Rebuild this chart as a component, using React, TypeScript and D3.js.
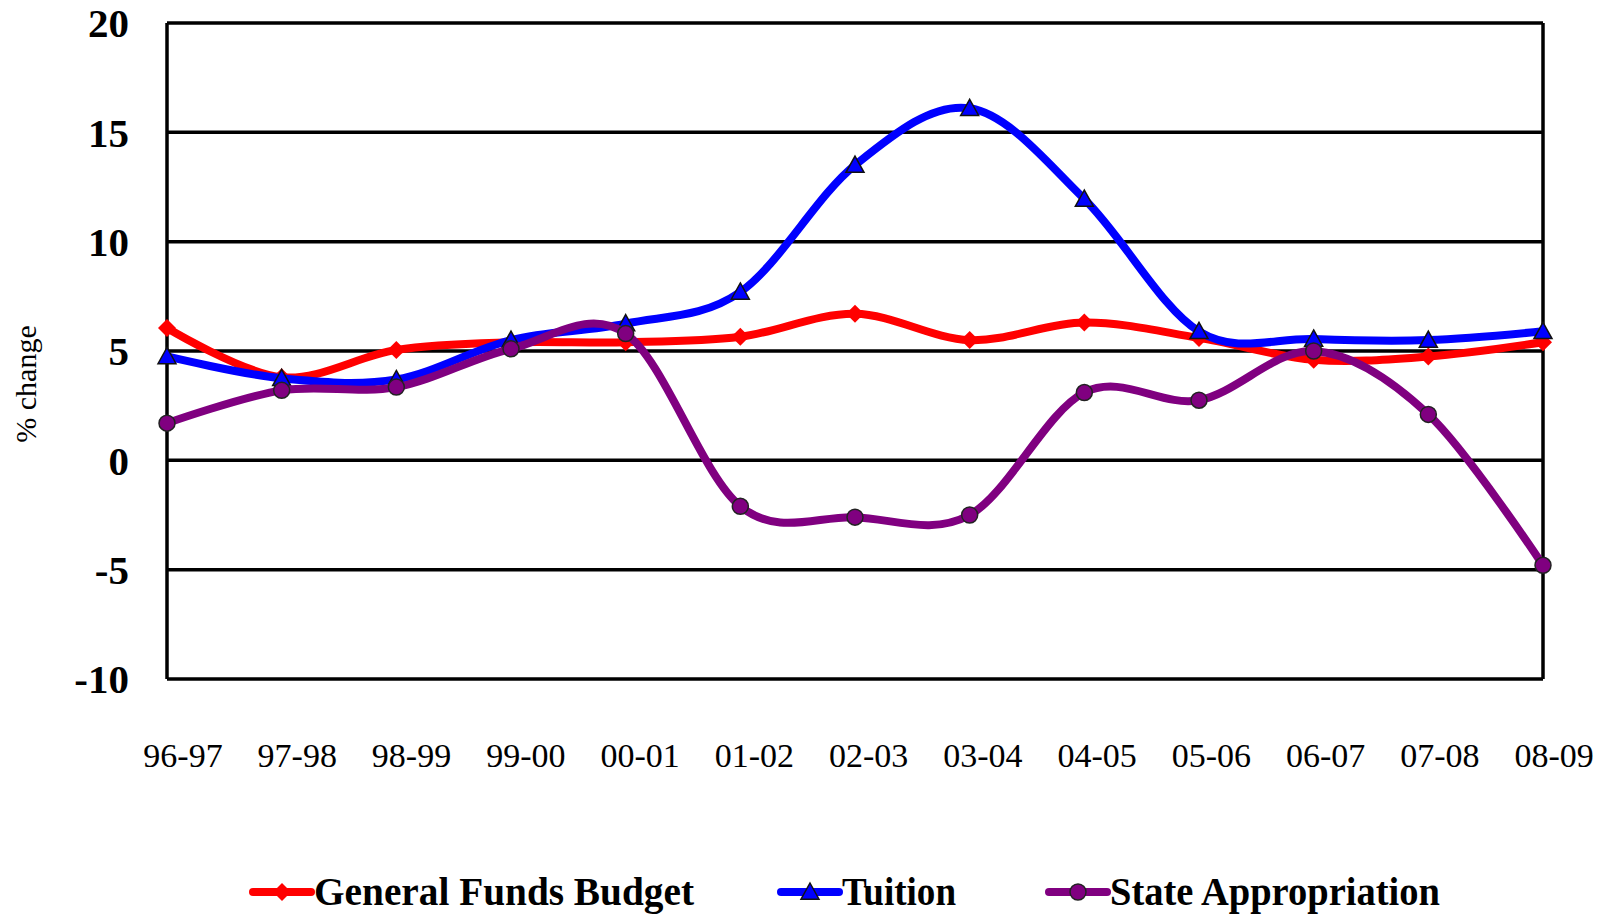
import React from "react";
import * as d3 from "d3";

// fiscal years on the x axis
const years = ["96-97", "97-98", "98-99", "99-00", "00-01", "01-02", "02-03", "03-04", "04-05", "05-06", "06-07", "07-08", "08-09"];

// % change per year
const generalFunds = [6.05, 3.8, 5.05, 5.4, 5.4, 5.65, 6.7, 5.5, 6.3, 5.6, 4.6, 4.75, 5.4];
const tuition = [4.75, 3.75, 3.7, 5.5, 6.25, 7.7, 13.5, 16.1, 11.95, 5.9, 5.55, 5.5, 5.9];
const stateApprop = [1.7, 3.2, 3.35, 5.1, 5.8, -2.1, -2.6, -2.5, 3.1, 2.75, 5.0, 2.1, -4.8];

const yTicks = [20, 15, 10, 5, 0, -5, -10];

const series = [
  { name: "General Funds Budget", values: generalFunds, color: "#ff0000", marker: "diamond", legendX: 253, legendW: 380 },
  { name: "Tuition", values: tuition, color: "#0000ff", marker: "triangle", legendX: 781, legendW: 114 },
  { name: "State Appropriation", values: stateApprop, color: "#800080", marker: "circle", legendX: 1049, legendW: 330 },
];

const W = 1605;
const H = 914;
const left = 167;
const right = 1543;
const top = 23;
const bottom = 679;

function Marker({ type, x, y, color }) {
  if (type === "diamond") {
    const s = 9;
    return <path d={`M${x},${y - s}L${x + s},${y}L${x},${y + s}L${x - s},${y}Z`} fill={color} />;
  }
  if (type === "triangle") {
    const s = 9;
    return (
      <path
        d={`M${x},${y - s}L${x + s},${y + s * 0.8}L${x - s},${y + s * 0.8}Z`}
        fill={color}
        stroke="#111"
        strokeWidth={1.5}
      />
    );
  }
  return <circle cx={x} cy={y} r={8} fill={color} stroke="#222" strokeWidth={1.5} />;
}

export default function App() {
  const x = d3.scalePoint().domain(years).range([left, right]);
  const y = d3.scaleLinear().domain([-10, 20]).range([bottom, top]);

  const line = d3
    .line<number>()
    .x((d, i) => x(years[i]))
    .y((d) => y(d))
    .curve(d3.curveCardinal.tension(0));

  return (
    <svg
      width={W}
      height={H}
      style={{ position: "absolute", left: 0, top: 0, background: "#fff" }}
      fontFamily="'Liberation Serif', 'Times New Roman', serif"
    >
      {/* grid lines */}
      {yTicks.map((t) => (
        <line key={t} x1={left} x2={right} y1={y(t)} y2={y(t)} stroke="#000" strokeWidth={3.5} />
      ))}
      <line x1={left} x2={left} y1={top} y2={bottom} stroke="#000" strokeWidth={3.5} />
      <line x1={right} x2={right} y1={top} y2={bottom} stroke="#000" strokeWidth={3.5} />

      {/* y tick labels */}
      {yTicks.map((t) => (
        <text
          key={t}
          x={129}
          y={y(t)}
          dy="0.35em"
          textAnchor="end"
          fontSize={41}
          fontWeight="bold"
          fill="#000"
        >
          {t}
        </text>
      ))}

      <text
        transform={`translate(36,384) rotate(-90)`}
        textAnchor="middle"
        fontSize={30}
        fill="#000"
      >
        % change
      </text>

      {/* x tick labels */}
      {years.map((yr, i) => (
        <text key={yr} x={x(yr) + 16 - i * 0.4} y={767} textAnchor="middle" fontSize={34} fill="#000">
          {yr}
        </text>
      ))}

      {/* series */}
      {series.map((s) => (
        <g key={s.name}>
          <path d={line(s.values)} fill="none" stroke={s.color} strokeWidth={8} strokeLinejoin="round" />
          {s.values.map((v, i) => (
            <Marker key={i} type={s.marker} x={x(years[i])} y={y(v)} color={s.color} />
          ))}
        </g>
      ))}

      {/* legend */}
      {series.map((s) => (
        <g key={s.name}>
          <line
            x1={s.legendX}
            x2={s.legendX + 58}
            y1={892}
            y2={892}
            stroke={s.color}
            strokeWidth={8}
            strokeLinecap="round"
          />
          <Marker type={s.marker} x={s.legendX + 29} y={892} color={s.color} />
          <text
            x={s.legendX + 61}
            y={905}
            fontSize={39}
            fontWeight="bold"
            fill="#000"
            textLength={s.legendW}
            lengthAdjust="spacingAndGlyphs"
          >
            {s.name}
          </text>
        </g>
      ))}
    </svg>
  );
}
